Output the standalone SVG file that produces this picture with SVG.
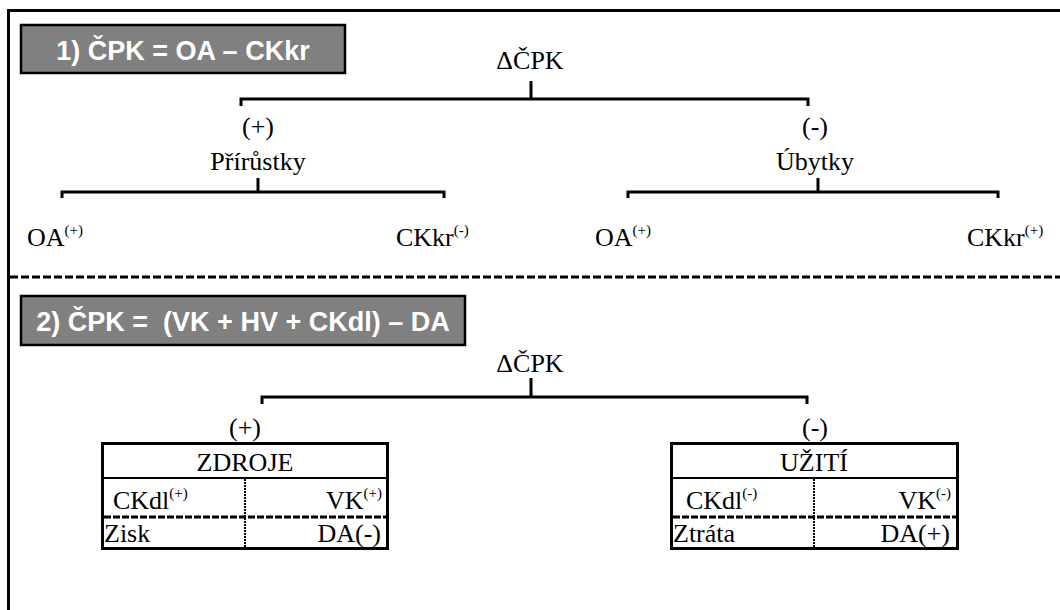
<svg xmlns="http://www.w3.org/2000/svg" width="1060" height="610" viewBox="0 0 1060 610">
<style>
  .t { font-family: "Liberation Serif", "Times New Roman", serif; font-size: 26px; fill: #000; }
  .sup { font-size: 15px; }
  .hdr { font-family: "Liberation Sans", Arial, sans-serif; font-weight: bold; font-size: 27px; fill: #fff; white-space: pre; }
  .hbox { fill: #808080; stroke: #000; stroke-width: 2.5; }
  .ln { stroke: #000; stroke-width: 3; fill: none; }
  .tb { stroke: #000; stroke-width: 3; fill: #fff; }
  .row { stroke: #000; stroke-width: 2; }
  .dash { stroke: #000; stroke-width: 3; stroke-dasharray: 7 2; }
  .dot { stroke: #000; stroke-width: 2; stroke-dasharray: 2 1; }
</style>
<rect width="1060" height="610" fill="#fff"/>
<path d="M8.5 610 V10.5 H1060" class="ln"/>
<line x1="10" y1="277" x2="1060" y2="277" stroke="#000" stroke-width="3" stroke-dasharray="8 3"/>

<g id="header1">
  <rect x="21" y="25" width="324" height="48" class="hbox"/>
  <text x="183" y="60" text-anchor="middle" class="hdr">1) ČPK = OA – CKkr</text>
</g>
<g id="header2">
  <rect x="21" y="296" width="444" height="49" class="hbox"/>
  <text x="243" y="331" text-anchor="middle" class="hdr">2) ČPK =  (VK + HV + CKdl) – DA</text>
</g>

<g id="connectors">
  <path d="M531 81 V99 M241 106 V99 H808 V106" class="ln"/>
  <path d="M258 178 V192 M62 198 V192 H444 V198" class="ln"/>
  <path d="M818 178 V192 M628 198 V192 H998 V198" class="ln"/>
  <path d="M531 378 V397 M262 404 V397 H807 V404" class="ln"/>
</g>

<g id="root1"><text x="530" y="69" text-anchor="middle" class="t">ΔČPK</text></g>
<g id="prirustky">
  <text x="258" y="135" text-anchor="middle" class="t">(+)</text>
  <text x="258" y="170" text-anchor="middle" class="t">Přírůstky</text>
</g>
<g id="ubytky">
  <text x="815" y="135" text-anchor="middle" class="t">(-)</text>
  <text x="815" y="170" text-anchor="middle" class="t">Úbytky</text>
</g>
<g id="oa1"><text x="27" y="246" class="t">OA<tspan class="sup" dy="-11">(+)</tspan></text></g>
<g id="ckkr1"><text x="396" y="246" class="t">CKkr<tspan class="sup" dy="-11">(-)</tspan></text></g>
<g id="oa2"><text x="595" y="246" class="t">OA<tspan class="sup" dy="-11">(+)</tspan></text></g>
<g id="ckkr2"><text x="967" y="246" class="t">CKkr<tspan class="sup" dy="-11">(+)</tspan></text></g>

<g id="root2"><text x="530" y="372" text-anchor="middle" class="t">ΔČPK</text></g>

<g id="zdroje">
  <text x="245" y="436" text-anchor="middle" class="t">(+)</text>
  <rect x="102.5" y="443.5" width="285" height="105" class="tb"/>
  <line x1="102" y1="478" x2="388" y2="478" class="row"/>
  <line x1="245" y1="479" x2="245" y2="548" class="dot"/>
  <line x1="104" y1="517" x2="386" y2="517" class="dash"/>
  <text x="245" y="471" text-anchor="middle" class="t">ZDROJE</text>
  <text x="113" y="509" class="t">CKdl<tspan class="sup" dy="-11">(+)</tspan></text>
  <text x="382" y="509" text-anchor="end" class="t">VK<tspan class="sup" dy="-11">(+)</tspan></text>
  <text x="104" y="542" class="t">Zisk</text>
  <text x="381" y="542" text-anchor="end" class="t">DA(-)</text>
</g>

<g id="uziti">
  <text x="815" y="436" text-anchor="middle" class="t">(-)</text>
  <rect x="671.5" y="443.5" width="286" height="105" class="tb"/>
  <line x1="671" y1="478" x2="958" y2="478" class="row"/>
  <line x1="814" y1="479" x2="814" y2="548" class="dot"/>
  <line x1="673" y1="517" x2="956" y2="517" class="dash"/>
  <text x="814" y="471" text-anchor="middle" class="t">UŽITÍ</text>
  <text x="686" y="509" class="t">CKdl<tspan class="sup" dy="-11">(-)</tspan></text>
  <text x="951" y="509" text-anchor="end" class="t">VK<tspan class="sup" dy="-11">(-)</tspan></text>
  <text x="673" y="542" class="t">Ztráta</text>
  <text x="950" y="542" text-anchor="end" class="t">DA(+)</text>
</g>
</svg>
